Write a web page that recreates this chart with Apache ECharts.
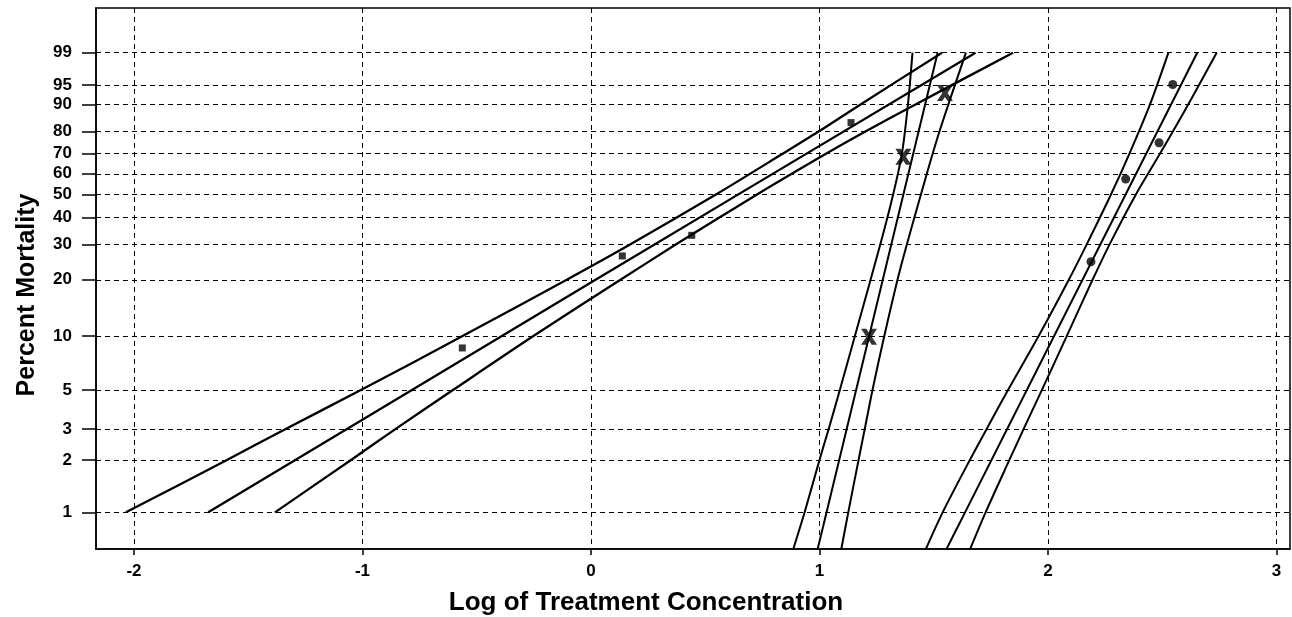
<!DOCTYPE html>
<html>
<head>
<meta charset="utf-8">
<script src="https://cdn.jsdelivr.net/npm/echarts@6/dist/echarts.min.js"></script>
<style>
    html, body { margin: 0; padding: 0; background: #fff; }
    #chart { width: 1292px; height: 617px; }
</style>
</head>
<body>
<div id="chart"></div>
<script>
    // tick labels
    var yTickPercents = [1, 2, 3, 5, 10, 20, 30, 40, 50, 60, 70, 80, 90, 95, 99];
    var xTicks = [-2, -1, 0, 1, 2, 3];

    // observed mortality (log conc, percent)
    var squareX = [-0.563, 0.137, 0.441, 1.138];
    var squareP = [8.6, 26.4, 33.2, 83.7];
    var crossX = [1.217, 1.367, 1.549];
    var crossP = [9.9, 68.4, 93.2];
    var circleX = [2.188, 2.340, 2.486, 2.546];
    var circleP = [24.7, 57.5, 75.0, 95.1];

    // fitted lines and confidence bands (percent -> log conc)
    var g1CenterP = [1, 20, 99];
    var g1CenterX = [-1.675, 0.02, 1.683];
    var g1UpperP = [1, 2, 3, 5, 10, 20, 30, 50, 70, 80, 90, 99];
    var g1UpperX = [-2.035, -1.593, -1.338, -1.007, -0.562, -0.106, 0.171, 0.545, 0.842, 0.996, 1.178, 1.536];
    var g1LowerP = [1, 2, 3, 5, 10, 20, 30, 50, 70, 80, 90, 99];
    var g1LowerX = [-1.383, -1.05, -0.856, -0.604, -0.252, 0.129, 0.371, 0.725, 1.032, 1.201, 1.418, 1.847];

    var g2CenterP = [0.6, 1, 99];
    var g2CenterX = [0.99, 1.031, 1.517];
    var g2LeftP = [0.6, 1, 2, 3, 5, 10, 30, 50, 70, 90, 99];
    var g2LeftX = [0.883, 0.935, 1.0, 1.04, 1.089, 1.155, 1.266, 1.322, 1.361, 1.387, 1.407];
    var g2RightP = [0.6, 1, 2, 3, 5, 10, 22.4, 57, 80, 99];
    var g2RightX = [1.094, 1.126, 1.171, 1.198, 1.232, 1.2835, 1.352, 1.462, 1.525, 1.641];

    var g3CenterP = [0.6, 1, 99];
    var g3CenterX = [1.552, 1.637, 2.653];
    var g3LeftP = [0.6, 1, 2, 3, 5, 10, 20, 30, 50, 70, 90, 99];
    var g3LeftX = [1.462, 1.539, 1.658, 1.731, 1.825, 1.959, 2.091, 2.169, 2.275, 2.357, 2.446, 2.527];
    var g3RightP = [0.6, 1, 2, 3, 5, 10, 20, 30, 50, 70, 90, 99];
    var g3RightX = [1.656, 1.727, 1.831, 1.893, 1.973, 2.082, 2.195, 2.269, 2.384, 2.491, 2.613, 2.738];

    // weibull probability scale
    function wb(p) {
        return Math.log(-Math.log(1 - p / 100));
    }
    function pairs(xs, ps) {
        var out = [];
        for (var i = 0; i < xs.length; i++) {
            out.push([xs[i], wb(ps[i])]);
        }
        return out;
    }

    var yTickValues = yTickPercents.map(wb);
    var font = "'Liberation Sans', Arial, sans-serif";

    function lineSeries(xs, ps, w) {
        return {
            type: 'line',
            data: pairs(xs, ps),
            showSymbol: false,
            smooth: 0.3,
            clip: true,
            lineStyle: { color: '#000', width: w },
            silent: true
        };
    }

    // thick X marker
    var crossPath = 'path://M0,0 L4,0 L6,3 L8,0 L12,0 L8,6 L12,12 L8,12 L6,9 L4,12 L0,12 L4,6 Z';

    var chart = echarts.init(document.getElementById('chart'));
    var option = {
        animation: false,
        backgroundColor: '#fff',
        grid: {
            left: 96, right: 2, top: 8, bottom: 68,
            show: true,
            borderColor: '#000',
            borderWidth: 1.5
        },
        xAxis: {
            type: 'value',
            min: -2.166,
            max: 3.059,
            axisLine: { show: true, onZero: false, lineStyle: { color: '#000', width: 1.5 } },
            axisTick: { show: true, customValues: xTicks, length: 6, lineStyle: { color: '#000', width: 1.5 } },
            axisLabel: {
                customValues: xTicks,
                margin: 14,
                color: '#000',
                fontSize: 17,
                fontWeight: 'bold',
                fontFamily: font
            },
            splitLine: { show: true, lineStyle: { color: '#000', width: 1, type: [5, 4] } }
        },
        yAxis: {
            type: 'value',
            min: -5.089,
            max: 2.123,
            axisLine: { show: true, onZero: false, lineStyle: { color: '#000', width: 1.5 } },
            axisTick: { show: true, customValues: yTickValues, length: 14, lineStyle: { color: '#000', width: 1.5 } },
            axisLabel: {
                customValues: yTickValues,
                margin: 24,
                color: '#000',
                fontSize: 17,
                fontWeight: 'bold',
                fontFamily: font,
                formatter: function (v) {
                    var best = 0;
                    for (var i = 0; i < yTickValues.length; i++) {
                        if (Math.abs(yTickValues[i] - v) < Math.abs(yTickValues[best] - v)) best = i;
                    }
                    return String(yTickPercents[best]);
                }
            },
            splitLine: { show: true, lineStyle: { color: '#000', width: 1, type: [5, 4] } }
        },
        graphic: [{
            type: 'text',
            x: 646, y: 603,
            style: {
                text: 'Log of Treatment Concentration',
                font: 'bold 26px ' + font,
                fill: '#000',
                textAlign: 'center',
                textVerticalAlign: 'middle'
            }
        }, {
            type: 'text',
            x: 27, y: 295,
            rotation: Math.PI / 2,
            style: {
                text: 'Percent Mortality',
                font: 'bold 25px ' + font,
                fill: '#000',
                textAlign: 'center',
                textVerticalAlign: 'middle'
            }
        }],
        series: [
            lineSeries(g1UpperX, g1UpperP, 2.3),
            lineSeries(g1CenterX, g1CenterP, 2.3),
            lineSeries(g1LowerX, g1LowerP, 2.3),
            lineSeries(g2LeftX, g2LeftP, 2),
            lineSeries(g2CenterX, g2CenterP, 2),
            lineSeries(g2RightX, g2RightP, 2),
            lineSeries(g3LeftX, g3LeftP, 2),
            lineSeries(g3CenterX, g3CenterP, 2),
            lineSeries(g3RightX, g3RightP, 2),
            {
                type: 'scatter',
                data: pairs(squareX, squareP),
                symbol: 'rect',
                symbolSize: 7,
                itemStyle: { color: '#000' },
                z: 5
            },
            {
                type: 'scatter',
                data: pairs(crossX, crossP),
                symbol: crossPath,
                symbolSize: 16,
                itemStyle: { color: '#000' },
                z: 5
            },
            {
                type: 'scatter',
                data: pairs(circleX, circleP),
                symbol: 'circle',
                symbolSize: 9,
                itemStyle: { color: '#000' },
                z: 5
            }
        ]
    };
    chart.setOption(option);
</script>
</body>
</html>
